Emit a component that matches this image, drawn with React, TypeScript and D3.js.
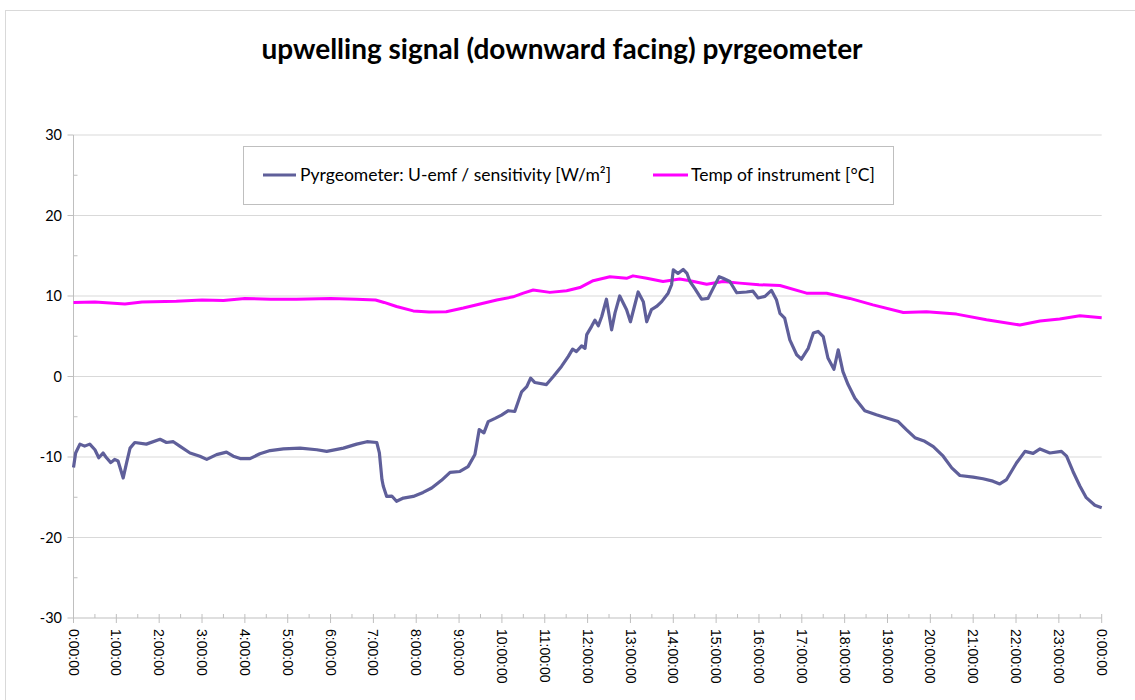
import React from 'react';
import * as d3 from 'd3';

// time of day in hours
const pyrHours = [
  0, 0.05, 0.15, 0.26, 0.38, 0.5, 0.59, 0.69, 0.77, 0.87, 0.96, 1.04, 1.16, 1.24, 1.32, 1.43,
  1.7, 2.02, 2.17, 2.33, 2.48, 2.72, 2.95, 3.11, 3.34, 3.57, 3.73, 3.89, 4.12, 4.35, 4.59,
  4.9, 5.29, 5.68, 5.91, 6.3, 6.61, 6.85, 7.08, 7.14, 7.2, 7.23, 7.31, 7.43, 7.54, 7.7,
  7.93, 8.16, 8.36, 8.59, 8.79, 9.02, 9.21, 9.37, 9.47, 9.58, 9.68, 9.84, 9.99, 10.15,
  10.3, 10.46, 10.58, 10.67, 10.77, 11.04, 11.2, 11.39, 11.55, 11.65, 11.74, 11.86, 11.94,
  11.98, 12.09, 12.17, 12.25, 12.33, 12.44, 12.56, 12.64, 12.75, 12.91, 13.0, 13.18, 13.3,
  13.38, 13.49, 13.61, 13.73, 13.88, 13.96, 14.0, 14.11, 14.23, 14.32, 14.39, 14.5, 14.66,
  14.81, 14.93, 15.07, 15.16, 15.32, 15.48, 15.71, 15.86, 15.98, 16.14, 16.29, 16.41,
  16.49, 16.6, 16.72, 16.88, 16.99, 17.15, 17.27, 17.38, 17.5, 17.61, 17.75, 17.85, 17.96,
  18.08, 18.24, 18.47, 18.74, 18.98, 19.25, 19.44, 19.64, 19.87, 20.07, 20.3, 20.5, 20.69,
  21.0, 21.23, 21.46, 21.62, 21.78, 22.01, 22.21, 22.4, 22.56, 22.79, 23.06, 23.18, 23.33,
  23.49, 23.64, 23.84, 24.0,
];
const pyrValues = [
  -11.3, -9.5, -8.4, -8.65, -8.4, -9.1, -10.1, -9.5, -10.1, -10.7, -10.3, -10.5, -12.6, -10.7, -8.9, -8.2,
  -8.4, -7.8, -8.2, -8.1, -8.65, -9.5, -9.9, -10.3, -9.7, -9.4, -9.9, -10.2, -10.2, -9.6, -9.2,
  -9.0, -8.9, -9.1, -9.3, -8.9, -8.4, -8.1, -8.2, -9.5, -12.8, -13.6, -14.9, -14.85, -15.5, -15.1,
  -14.9, -14.4, -13.85, -12.9, -11.9, -11.8, -11.2, -9.7, -6.6, -7.0, -5.6, -5.2, -4.8, -4.25,
  -4.35, -1.9, -1.25, -0.2, -0.75, -1.0, 0, 1.25, 2.5, 3.4, 3.1, 3.8, 3.5,
  5.2, 6.2, 7.0, 6.3, 7.45, 9.6, 5.8, 7.9, 10.0, 8.3, 6.8, 10.5, 9.3,
  6.8, 8.3, 8.7, 9.3, 10.35, 11.4, 13.25, 12.8, 13.3, 12.8, 11.8, 10.95, 9.6,
  9.7, 10.95, 12.4, 12.2, 11.8, 10.4, 10.5, 10.6, 9.75, 9.95, 10.7, 9.5,
  7.85, 7.25, 4.55, 2.7, 2.15, 3.5, 5.4, 5.6, 4.95, 2.3, 0.9, 3.3, 0.6,
  -1.0, -2.7, -4.25, -4.75, -5.15, -5.6, -6.6, -7.6, -8.05, -8.7, -9.9, -11.35, -12.3,
  -12.5, -12.7, -13.0, -13.35, -12.8, -10.75, -9.3, -9.55, -9.0, -9.5, -9.3, -9.9, -11.8,
  -13.6, -15.05, -16.0, -16.3,
];

const tempHours = [
  0, 0.5, 1.2, 1.6, 2.4, 3.0, 3.5, 4.0, 4.6, 5.2, 6.0, 6.6, 7.05, 7.25, 7.54, 7.93, 8.3,
  8.7, 9.1, 9.49, 9.88, 10.26, 10.5, 10.73, 11.12, 11.51, 11.82, 12.13, 12.52, 12.91,
  13.06, 13.38, 13.76, 14.15, 14.39, 14.78, 15.16, 15.55, 16.0, 16.49, 17.11, 17.58,
  18.12, 18.66, 19.37, 19.91, 20.61, 21.31, 22.09, 22.56, 23.02, 23.49, 24.0,
];
const tempValues = [
  9.2, 9.25, 9.0, 9.25, 9.35, 9.5, 9.45, 9.7, 9.6, 9.6, 9.7, 9.6, 9.5, 9.2, 8.7, 8.15, 8.0,
  8.05, 8.5, 9.0, 9.5, 9.9, 10.35, 10.75, 10.45, 10.65, 11.05, 11.9, 12.4, 12.2,
  12.5, 12.2, 11.8, 12.1, 11.9, 11.45, 11.8, 11.6, 11.4, 11.3, 10.35, 10.35,
  9.7, 8.9, 7.95, 8.05, 7.75, 7.05, 6.4, 6.9, 7.15, 7.55, 7.3,
];

const xTicks = d3.range(0, 25);
const xTickLabels = xTicks.map(h => `${h % 24}:00:00`);
const yTicks = [-30, -20, -10, 0, 10, 20, 30];

const title = 'upwelling signal (downward facing) pyrgeometer';
const seriesNames = ['Pyrgeometer: U-emf / sensitivity [W/m²]', 'Temp of instrument [°C]'];
const seriesColors = ['#5f5f9a', '#ff00ff'];

const W = 1135;
const H = 700;

export default function App() {
  const x = d3.scaleLinear().domain([0, 24]).range([73.5, 1101.7]);
  const y = d3.scaleLinear().domain([-30, 30]).range([618, 135]);

  const line = d3.line<[number, number]>()
    .x(d => x(d[0]))
    .y(d => y(d[1]));

  const pyrPath = line(pyrHours.map((h, i) => [h, pyrValues[i]]));
  const tempPath = line(tempHours.map((h, i) => [h, tempValues[i]]));

  const minorX = d3.range(0.5, 24, 1);
  const minorY = d3.range(-25, 30, 10);
  const [x0, x1] = x.range();
  const yBase = y(-30);

  return (
    <svg width={W} height={H} style={{ position: 'absolute', left: 0, top: 0, background: '#fff' }}
      fontFamily="Lato, 'Open Sans', sans-serif">
      <rect x={5.5} y={10.5} width={1160} height={720} fill="#fff" stroke="#d9d9d9" />

      <text x={562} y={59} textAnchor="middle" fontSize={28} fontWeight="bold" fill="#000">{title}</text>

      {/* grid */}
      {yTicks.filter(t => t !== -30).map(t => (
        <line key={t} x1={x0} x2={x1} y1={y(t)} y2={y(t)} stroke="#d9d9d9" strokeWidth={1} />
      ))}

      {/* y axis */}
      <line x1={x0} x2={x0} y1={y(30)} y2={yBase} stroke="#bfbfbf" />
      {yTicks.map(t => (
        <g key={t}>
          <line x1={x0 - 6} x2={x0} y1={y(t)} y2={y(t)} stroke="#bfbfbf" />
          <text x={62} y={y(t)} dy="0.35em" textAnchor="end" fontSize={14.5} fill="#000">{t}</text>
        </g>
      ))}
      {minorY.map(t => (
        <line key={t} x1={x0} x2={x0 + 4} y1={y(t)} y2={y(t)} stroke="#bfbfbf" />
      ))}

      {/* x axis */}
      <line x1={x0} x2={x1} y1={yBase} y2={yBase} stroke="#bfbfbf" />
      {xTicks.map((h, i) => (
        <g key={h}>
          <line x1={x(h)} x2={x(h)} y1={yBase - 4} y2={yBase + 5} stroke="#bfbfbf" />
          <text transform={`translate(${x(h)},${yBase + 11}) rotate(90)`} dy="0.35em"
            fontSize={14} fontFamily="'Liberation Sans', Arial, sans-serif" fill="#000">{xTickLabels[i]}</text>
        </g>
      ))}
      {minorX.map(h => (
        <line key={h} x1={x(h)} x2={x(h)} y1={yBase - 4} y2={yBase} stroke="#bfbfbf" />
      ))}

      {/* series */}
      <path d={tempPath ?? ''} fill="none" stroke={seriesColors[1]} strokeWidth={3} strokeLinejoin="round" />
      <path d={pyrPath ?? ''} fill="none" stroke={seriesColors[0]} strokeWidth={3.2} strokeLinejoin="round" />

      {/* legend */}
      <rect x={243.5} y={146.5} width={650} height={58} fill="#fff" stroke="#bfbfbf" />
      <line x1={263} x2={296} y1={175} y2={175} stroke={seriesColors[0]} strokeWidth={3} />
      <text x={300} y={175} dy="0.35em" fontSize={17.5} fill="#000">{seriesNames[0]}</text>
      <line x1={653} x2={688} y1={175} y2={175} stroke={seriesColors[1]} strokeWidth={3} />
      <text x={691} y={175} dy="0.35em" fontSize={17.5} fill="#000">{seriesNames[1]}</text>
    </svg>
  );
}
